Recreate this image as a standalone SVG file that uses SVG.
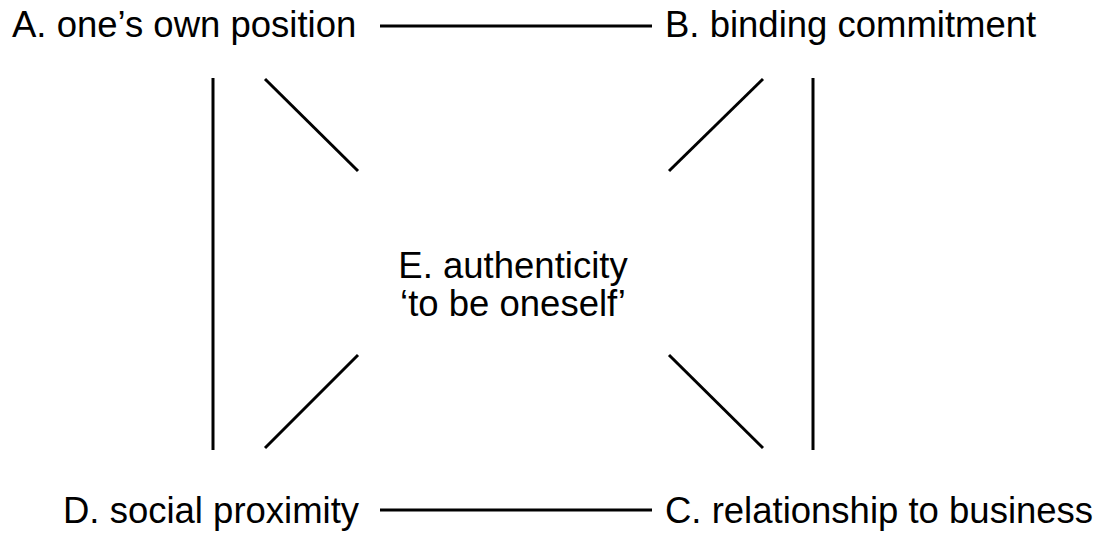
<svg xmlns="http://www.w3.org/2000/svg" width="1107" height="537" viewBox="0 0 1107 537">
<style>
text{font-family:"Liberation Sans",Arial,sans-serif;font-size:36.5px;fill:#000}
.c line{stroke:#000;stroke-width:3;stroke-linecap:butt}
</style>
<rect width="1107" height="537" fill="#fff"/>
<g class="c" id="connectors">
<line x1="380" y1="26" x2="652" y2="26"/>
<line x1="380" y1="510" x2="652" y2="510"/>
<line x1="213" y1="78" x2="213" y2="450"/>
<line x1="813" y1="78" x2="813" y2="450"/>
<line x1="265" y1="79" x2="358" y2="171"/>
<line x1="763" y1="79" x2="669" y2="171"/>
<line x1="358" y1="355" x2="265" y2="448"/>
<line x1="669" y1="355" x2="763" y2="448"/>
</g>
<g id="nodeA"><text x="12" y="37">A. one’s own position</text></g>
<g id="nodeB"><text x="665" y="37">B. binding commitment</text></g>
<g id="nodeC"><text x="665" y="523">C. relationship to business</text></g>
<g id="nodeD"><text x="63" y="523">D. social proximity</text></g>
<g id="nodeE"><text x="513" y="278" text-anchor="middle">E. authenticity</text><text x="513" y="316" text-anchor="middle">‘to be oneself’</text></g>
</svg>
